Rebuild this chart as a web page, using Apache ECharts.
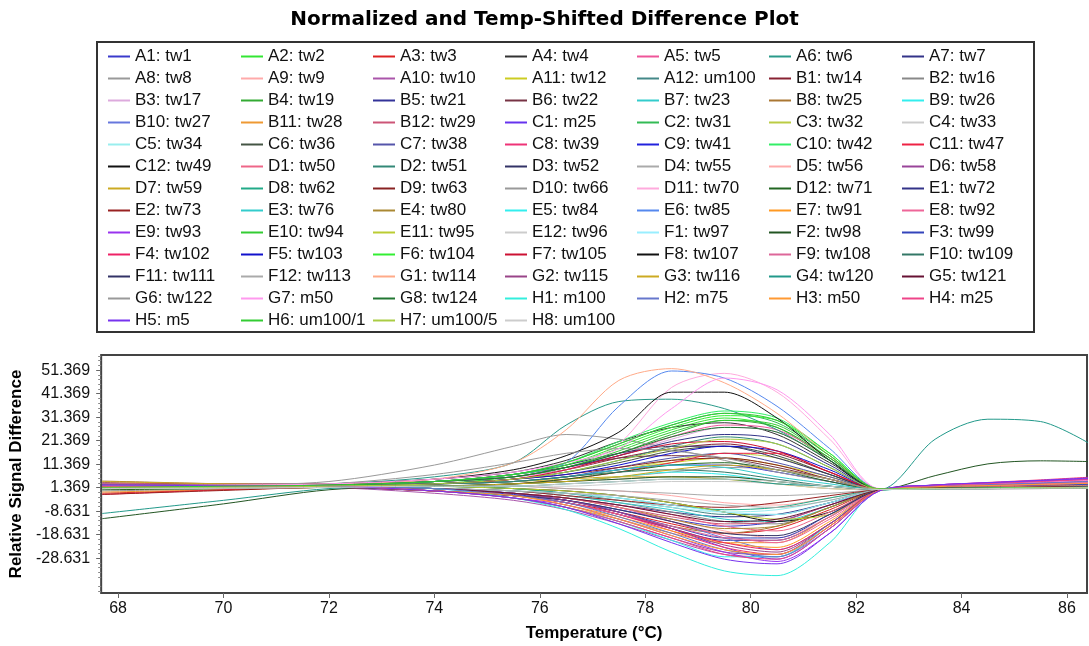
<!DOCTYPE html>
<html>
<head>
<meta charset="utf-8">
<script src="https://cdn.jsdelivr.net/npm/echarts@6/dist/echarts.min.js"></script>
<style>
html,body{margin:0;padding:0;background:#fff;}
#chart{width:1089px;height:646px;}
</style>
</head>
<body>
<div id="chart"></div>
<script>
// ---- DATA ----
const temps = [67.7, 70, 72, 74, 75.5, 76.5, 77.5, 78.5, 79.5, 80.5, 81.5, 82.45, 83.5, 84.5, 85.5, 86.4];
const xTickLabels = [68, 70, 72, 74, 76, 78, 80, 82, 84, 86];
const yTickLabels = [51.369, 41.369, 31.369, 21.369, 11.369, 1.369, -8.631, -18.631, -28.631];
const wellNames = [
'A1: tw1','A2: tw2','A3: tw3','A4: tw4','A5: tw5','A6: tw6','A7: tw7',
'A8: tw8','A9: tw9','A10: tw10','A11: tw12','A12: um100','B1: tw14','B2: tw16',
'B3: tw17','B4: tw19','B5: tw21','B6: tw22','B7: tw23','B8: tw25','B9: tw26',
'B10: tw27','B11: tw28','B12: tw29','C1: m25','C2: tw31','C3: tw32','C4: tw33',
'C5: tw34','C6: tw36','C7: tw38','C8: tw39','C9: tw41','C10: tw42','C11: tw47',
'C12: tw49','D1: tw50','D2: tw51','D3: tw52','D4: tw55','D5: tw56','D6: tw58',
'D7: tw59','D8: tw62','D9: tw63','D10: tw66','D11: tw70','D12: tw71','E1: tw72',
'E2: tw73','E3: tw76','E4: tw80','E5: tw84','E6: tw85','E7: tw91','E8: tw92',
'E9: tw93','E10: tw94','E11: tw95','E12: tw96','F1: tw97','F2: tw98','F3: tw99',
'F4: tw102','F5: tw103','F6: tw104','F7: tw105','F8: tw107','F9: tw108','F10: tw109',
'F11: tw111','F12: tw113','G1: tw114','G2: tw115','G3: tw116','G4: tw120','G5: tw121',
'G6: tw122','G7: m50','G8: tw124','H1: m100','H2: m75','H3: m50','H4: m25',
'H5: m5','H6: um100/1','H7: um100/5','H8: um100'
];
const A1 = [1.5, 1.8, 2.0, 1, -1.5, -4, -8, -12, -15, -13, -6, 0.6, 1.2, 1.4, 1.6, 2.0];
const A2 = [2.0, 2.2, 2.5, 4, 7, 11, 18, 26, 31, 27, 13, 0.8, 1.5, 1.8, 2.2, 2.5];
const A3 = [-1.0, 0.5, 1.5, 0, -2, -5, -9, -14, -18, -16, -8, 0.3, 1.0, 1.2, 1.4, 1.6];
const A4 = [2.5, 2.5, 3.0, 5, 8, 13, 21, 27, 29, 24, 12, 0.9, 2.0, 2.4, 2.8, 3.0];
const A5 = [1.0, 1.5, 2.0, 3, 5, 9, 15, 23, 28, 26, 14, 0.7, 1.8, 2.6, 3.5, 4.5];
const A6 = [1.8, 2.0, 3.0, 6, 12, 28, 38, 39, 35, 26, 13, 0.8, 1.0, 1.3, 1.6, 1.8];
const A7 = [3.0, 2.5, 2.0, 1, -1, -3, -6, -9, -11, -10, -5, 0.4, 1.2, 1.3, 1.4, 1.5];
const A8 = [0.0, 0.8, 1.5, 2, 3, 4, 6, 8, 10, 9, 5, 0.6, 0.8, 0.9, 1.0, 1.2];
const A9 = [1.2, 1.5, 2.0, 2, 2, 1, 0, -2, -5, -6, -3, 0.5, 1.5, 1.8, 2.0, 2.2];
const A10 = [2.2, 2.0, 1.5, -1, -4, -8, -14, -21, -27, -28, -15, 0.3, 2.0, 3.0, 4.2, 5.5];
const A11 = [1.5, 2.0, 2.5, 3, 4, 6, 9, 12, 14, 11, 6, 0.8, 1.4, 1.5, 1.6, 1.8];
const A12 = [0.8, 1.5, 2.0, 2, 1, -1, -4, -7, -10, -10, -5, 0.4, 0.9, 1.0, 1.2, 1.4];
const B1 = [3.5, 3.0, 3.0, 4, 6, 9, 14, 18, 20, 16, 8, 0.8, 2.5, 2.8, 3.1, 3.4];
const B2 = [1.0, 1.2, 1.5, 1, 0, -2, -5, -9, -13, -14, -7, 0.4, 0.8, 0.9, 1.0, 1.2];
const B3 = [2.0, 2.5, 3.0, 4, 6, 9, 15, 22, 27, 25, 13, 0.7, 2.0, 2.6, 3.3, 4.0];
const B4 = [1.5, 2.0, 2.5, 4, 6, 10, 16, 24, 30, 27, 14, 0.8, 0.9, 1.0, 1.1, 1.2];
const B5 = [2.8, 2.5, 2.0, 0, -2, -5, -10, -16, -21, -21, -11, 0.3, 1.5, 1.8, 2.2, 2.5];
const B6 = [1.0, 1.5, 2.5, 4, 7, 10, 14, 15, 14, 10, 5, 0.7, 1.5, 1.7, 1.9, 2.0];
const B7 = [1.8, 2.0, 2.0, 1, 0, -2, -5, -8, -12, -13, -7, 0.4, 1.1, 1.3, 1.6, 1.8];
const B8 = [4.2, 3.0, 2.0, 0, -2, -5, -10, -15, -18, -15, -7, 0.4, 1.5, 1.8, 2.2, 2.5];
const B9 = [1.2, 1.5, 2.0, 2, 3, 4, 6, 8, 7, 4, 2, 0.6, 1.0, 1.1, 1.3, 1.4];
const B10 = [2.0, 2.0, 1.5, 0, -2, -4, -8, -13, -20, -25, -14, 0.2, 1.8, 2.3, 2.8, 3.2];
const B11 = [-0.5, 0.5, 1.5, 0, -3, -7, -12, -18, -22, -22, -11, 0.3, 1.0, 1.2, 1.4, 1.6];
const B12 = [2.5, 2.2, 2.0, 1, -1, -3, -7, -11, -14, -13, -6, 0.5, 1.8, 2.1, 2.4, 2.6];
const C1 = [1.5, 1.8, 2.0, 1, -1, -4, -9, -16, -24, -29, -16, 0.2, 2.5, 3.4, 4.2, 5.0];
const C2 = [2.0, 2.2, 2.8, 4, 7, 12, 20, 28, 33, 29, 15, 0.9, 1.2, 1.4, 1.6, 1.7];
const C3 = [1.0, 1.5, 2.0, 3, 4, 6, 9, 13, 16, 14, 7, 0.7, 1.2, 1.4, 1.6, 1.8];
const C4 = [0.5, 1.0, 1.5, 2, 3, 4, 5, 6, 6, 4, 2, 0.6, 0.9, 1.0, 1.2, 1.3];
const C5 = [1.5, 1.8, 2.0, 1, 0, -2, -4, -7, -9, -8, -4, 0.5, 1.0, 1.1, 1.3, 1.4];
const C6 = [2.0, 2.0, 2.5, 3, 5, 8, 12, 17, 19, 15, 7, 0.8, 1.5, 1.7, 1.9, 2.0];
const C7 = [1.8, 2.0, 2.5, 3, 4, 6, 10, 14, 16, 12, 6, 0.7, 1.5, 1.8, 2.1, 2.4];
const C8 = [1.0, 1.2, 1.5, 0, -2, -5, -10, -17, -24, -27, -15, 0.2, 2.5, 3.6, 4.7, 5.8];
const C9 = [2.5, 2.5, 2.5, 3, 4, 6, 9, 11, 11, 8, 4, 0.7, 1.8, 2.1, 2.4, 2.6];
const C10 = [1.5, 2.0, 2.5, 4, 7, 12, 21, 29, 34, 31, 16, 0.9, 1.0, 1.1, 1.3, 1.4];
const C11 = [-1.5, 0.5, 2.0, 2, 3, 5, 8, 12, 16, 16, 8, 0.7, 1.4, 1.5, 1.7, 1.8];
const C12 = [1.5, 1.5, 2.0, 2, 1, 0, -2, -5, -9, -13, -9, 0.4, 1.0, 1.1, 1.3, 1.5];
const D1 = [3.0, 2.8, 2.5, 1, -1, -3, -6, -10, -15, -17, -9, 0.4, 2.0, 2.5, 3.0, 3.5];
const D2 = [1.2, 1.5, 2.0, 3, 5, 8, 13, 19, 23, 20, 10, 0.7, 1.0, 1.1, 1.3, 1.4];
const D3 = [2.2, 2.2, 2.5, 4, 7, 11, 16, 19, 19, 14, 7, 0.8, 1.6, 1.8, 2.0, 2.2];
const D4 = [1.0, 1.3, 1.8, 2, 2, 1, 0, -1, -2, -2, -1, 0.5, 0.9, 1.0, 1.2, 1.3];
const D5 = [1.5, 1.7, 2.0, 1, -1, -3, -7, -12, -17, -20, -11, 0.3, 1.5, 1.9, 2.3, 2.6];
const D6 = [2.5, 2.3, 2.0, 0, -3, -7, -13, -20, -26, -27, -14, 0.2, 2.2, 3.1, 4.0, 4.8];
const D7 = [4.0, 3.0, 2.5, 3, 4, 5, 6, 6, 5, 3, 1, 0.6, 1.2, 1.4, 1.6, 1.8];
const D8 = [2.0, 2.2, 2.5, 2, 1, -1, -3, -6, -8, -7, -3, 0.5, 1.0, 1.2, 1.4, 1.5];
const D9 = [1.2, 1.5, 2.0, 3, 5, 7, 10, 13, 14, 11, 5, 0.7, 1.4, 1.6, 1.8, 2.0];
const D10 = [2.0, 2.5, 4.0, 11, 19, 24, 22, 18, 13, 8, 4, 0.6, 1.0, 1.1, 1.3, 1.4];
const D11 = [1.5, 2.0, 2.5, 4, 6, 9, 20, 44, 50, 42, 22, 0.9, 1.8, 2.3, 2.9, 3.5];
const D12 = [0.5, 1.0, 1.5, 2, 3, 5, 8, 11, 12, 9, 4, 0.6, 1.0, 1.1, 1.3, 1.5];
const E1 = [2.5, 2.5, 2.5, 4, 6, 10, 15, 21, 24, 22, 11, 0.8, 1.6, 1.9, 2.2, 2.4];
const E2 = [-1.5, 0.2, 1.5, 1, 0, -2, -4, -6, -7, -5, -2, 0.5, 1.0, 1.1, 1.3, 1.4];
const E3 = [1.6, 1.8, 2.0, 3, 4, 6, 9, 11, 10, 6, 3, 0.6, 1.1, 1.2, 1.4, 1.5];
const E4 = [2.0, 2.0, 2.0, 1, -1, -3, -7, -12, -16, -15, -7, 0.4, 1.4, 1.6, 1.8, 2.0];
const E5 = [1.2, 1.5, 1.8, 0, -3, -7, -13, -21, -28, -28, -14, 0.3, 1.2, 1.4, 1.6, 1.8];
const E6 = [2.0, 2.2, 2.5, 4, 7, 12, 36, 51, 48, 36, 18, 0.9, 1.4, 1.7, 2.0, 2.2];
const E7 = [1.5, 1.5, 1.5, 0, -2, -6, -11, -17, -22, -24, -13, 0.2, 1.4, 1.7, 2.0, 2.2];
const E8 = [2.2, 2.0, 1.8, 1, -1, -3, -7, -13, -19, -22, -12, 0.3, 1.8, 2.4, 3.0, 3.5];
const E9 = [1.8, 1.8, 1.5, 0, -3, -6, -12, -19, -26, -30, -18, 0.1, 2.5, 3.5, 4.4, 5.2];
const E10 = [1.0, 1.5, 2.0, 3, 6, 10, 17, 25, 30, 28, 14, 0.8, 1.1, 1.2, 1.4, 1.5];
const E11 = [2.0, 2.0, 2.5, 2, 1, 0, -2, -5, -9, -12, -10, 0.3, 1.2, 1.4, 1.6, 1.8];
const E12 = [1.5, 1.8, 2.0, 2, 2, 2, 3, 4, 4, 3, 1, 0.6, 1.0, 1.1, 1.3, 1.4];
const F1 = [1.0, 1.2, 1.5, 1, 0, -1, -3, -6, -9, -10, -5, 0.4, 0.9, 1.0, 1.2, 1.3];
const F2 = [-11.8, -5.5, 0.5, 2, 3, 4, 5, 6, 6, 4, 2, 0.6, 6.5, 11.5, 12.8, 12.5];
const F3 = [2.5, 2.3, 2.0, 1, -1, -4, -9, -15, -20, -20, -10, 0.3, 1.6, 2.0, 2.4, 2.8];
const F4 = [1.5, 1.5, 1.5, 0, -2, -5, -10, -16, -22, -25, -14, 0.2, 1.3, 1.6, 2.0, 2.3];
const F5 = [2.2, 2.2, 2.5, 3, 5, 7, 11, 16, 19, 17, 9, 0.7, 1.5, 1.7, 1.9, 2.1];
const F6 = [1.8, 2.0, 2.5, 4, 7, 11, 19, 27, 32, 30, 16, 0.8, 1.0, 1.1, 1.3, 1.4];
const F7 = [2.0, 2.0, 2.5, 3, 5, 9, 15, 20, 21, 17, 8, 0.7, 1.2, 1.3, 1.5, 1.6];
const F8 = [2.5, 2.5, 3.0, 5, 9, 15, 25, 42, 42, 31, 13, 0.8, 1.5, 1.7, 1.9, 2.1];
const F9 = [1.0, 1.2, 1.5, 0, -2, -5, -10, -15, -20, -21, -11, 0.3, 1.5, 2.1, 2.7, 3.3];
const F10 = [2.0, 2.0, 2.5, 3, 4, 6, 8, 9, 8, 5, 2, 0.6, 1.2, 1.3, 1.5, 1.6];
const F11 = [1.5, 1.5, 1.5, 0, -2, -4, -8, -13, -18, -19, -10, 0.3, 1.4, 1.7, 2.0, 2.2];
const F12 = [1.0, 1.2, 1.5, 1, 0, -1, -2, -4, -6, -7, -4, 0.5, 1.0, 1.1, 1.2, 1.3];
const G1 = [2.0, 2.5, 3.0, 5, 12, 26, 47, 52, 46, 33, 15, 0.9, 1.4, 1.7, 2.0, 2.2];
const G2 = [2.0, 2.0, 2.0, 1, -1, -4, -9, -16, -23, -26, -14, 0.2, 1.8, 2.6, 3.4, 4.2];
const G3 = [1.5, 1.8, 2.0, 2, 3, 4, 6, 9, 11, 9, 5, 0.7, 1.3, 1.4, 1.6, 1.8];
const G4 = [-9.6, -4.0, 1.0, 2, 2, 3, 4, 5, 5, 3, 2, 0.6, 22, 30.5, 29.5, 20.5];
const G5 = [1.8, 2.0, 2.0, 1, -1, -3, -6, -10, -13, -12, -6, 0.4, 1.3, 1.5, 1.7, 1.9];
const G6 = [1.5, 2.0, 3.0, 7, 12, 16, 18, 17, 14, 9, 5, 0.7, 1.0, 1.1, 1.3, 1.4];
const G7 = [2.5, 2.5, 3.0, 5, 8, 12, 18, 35, 48, 43, 24, 1.0, 2.2, 2.9, 3.7, 4.5];
const G8 = [1.5, 2.0, 2.5, 4, 6, 10, 16, 23, 27, 25, 13, 0.8, 1.0, 1.1, 1.3, 1.4];
const H1 = [1.0, 1.5, 2.0, 1, -3, -8, -16, -26, -34, -36, -22, 0.1, 1.0, 1.2, 1.4, 1.6];
const H2 = [1.5, 1.8, 2.0, 1, -2, -5, -11, -18, -25, -28, -16, 0.2, 2.0, 2.7, 3.4, 4.0];
const H3 = [1.8, 2.0, 2.0, 0, -2, -6, -12, -19, -25, -27, -15, 0.2, 1.8, 2.3, 2.8, 3.2];
const H4 = [2.0, 2.0, 2.0, 0, -3, -7, -13, -20, -27, -29, -16, 0.2, 2.2, 3.1, 4.0, 4.8];
const H5 = [2.5, 2.2, 2.0, 0, -3, -7, -14, -22, -29, -31, -18, 0.1, 2.5, 3.5, 4.5, 5.5];
const H6 = [1.5, 2.0, 2.5, 4, 7, 12, 20, 28, 33, 30, 15, 0.9, 1.1, 1.2, 1.4, 1.5];
const H7 = [1.2, 1.5, 2.0, 3, 5, 8, 13, 18, 22, 20, 10, 0.7, 1.0, 1.1, 1.3, 1.4];
const H8 = [1.0, 1.2, 1.5, 2, 2, 3, 4, 5, 5, 4, 2, 0.6, 0.9, 1.0, 1.2, 1.3];

const wellValues = [
A1,A2,A3,A4,A5,A6,A7,A8,A9,A10,A11,A12,
B1,B2,B3,B4,B5,B6,B7,B8,B9,B10,B11,B12,
C1,C2,C3,C4,C5,C6,C7,C8,C9,C10,C11,C12,
D1,D2,D3,D4,D5,D6,D7,D8,D9,D10,D11,D12,
E1,E2,E3,E4,E5,E6,E7,E8,E9,E10,E11,E12,
F1,F2,F3,F4,F5,F6,F7,F8,F9,F10,F11,F12,
G1,G2,G3,G4,G5,G6,G7,G8,H1,H2,H3,H4,H5,H6,H7,H8
];

// ---- STYLE ----
const palette = [
'#3a3acc','#33e633','#dd2222','#333333','#ee5599','#2a9a8a','#333388',
'#999999','#ffaaaa','#aa55aa','#cccc22','#448888','#882233','#888888',
'#ddaadd','#33aa33','#333399','#773344','#33cccc','#aa7733','#33eeee',
'#6677dd','#ee9933','#cc5577','#6633ee','#33bb55','#bbcc44','#cccccc',
'#99eeee','#445544','#5555aa','#ee3377','#2222dd','#33ee66','#ee2244',
'#111111','#ee6688','#338877','#333366','#aaaaaa','#ffaaaa','#994499',
'#ccaa22','#22aa88','#882222','#999999','#ffaadd','#226622','#333388',
'#992222','#33cccc','#aa8833','#33eeee','#5588ee','#ff9922','#ee6699',
'#9933ee','#33cc33','#bbcc33','#cccccc','#99eeff','#225522','#3344bb',
'#ee2266','#1111cc','#33ee33','#cc1133','#111111','#dd6699','#337766',
'#333366','#aaaaaa','#ffaa88','#994488','#ccaa22','#22998a','#661133',
'#999999','#ff99ee','#227733','#33eedd','#6677cc','#ff9933','#ee4488',
'#7733ee','#33cc33','#aacc44','#cccccc'
];

const FONT = '"Liberation Sans", Arial, sans-serif';
const chart = echarts.init(document.getElementById('chart'), null, {renderer: 'canvas'});

const series = wellNames.map((name, i) => ({
  name: name,
  type: 'line',
  data: temps.map((t, k) => [t, wellValues[i][k]]),
  showSymbol: false,
  smooth: 0.3,
  silent: true,
  color: palette[i],
  lineStyle: {width: 1, color: palette[i]},
  emphasis: {disabled: true}
}));

const colX = [108, 241, 373, 505, 637, 769, 902];
const legends = colX.map((x, c) => ({
  orient: 'vertical',
  left: x,
  top: 48,
  itemGap: 5.0,
  itemWidth: 22,
  itemHeight: 2,
  icon: 'rect',
  selectedMode: false,
  padding: 0,
  textStyle: {fontFamily: FONT, fontSize: 17, lineHeight: 16, color: '#111'},
  data: wellNames.filter((n, i) => i % 7 === c)
}));

const minorTicks = [];
for (let k = -22; k <= 28; k++) {
  if (k % 5 !== 0) minorTicks.push(+(1.369 + 2 * k).toFixed(3));
}

chart.setOption({
  animation: false,
  backgroundColor: '#ffffff',
  title: {
    text: 'Normalized and Temp-Shifted Difference Plot',
    left: 'center',
    top: 5,
    textStyle: {fontFamily: '"DejaVu Sans", Verdana, sans-serif', fontWeight: 'bold', fontSize: 20, color: '#000'}
  },
  legend: legends,
  graphic: [{
    type: 'rect',
    shape: {x: 97, y: 42, width: 937, height: 290},
    style: {fill: 'none', stroke: '#333', lineWidth: 2},
    silent: true
  }],
  grid: {
    left: 97, top: 355, width: 990, height: 238,
    show: true, borderColor: '#444', borderWidth: 2, backgroundColor: '#fff'
  },
  xAxis: {
    type: 'value',
    min: 67.68, max: 86.38,
    name: 'Temperature (°C)',
    nameLocation: 'middle',
    nameGap: 32,
    nameTextStyle: {fontFamily: FONT, fontWeight: 'bold', fontSize: 17, color: '#000'},
    axisLine: {show: false, onZero: false},
    axisTick: {show: true, length: 5, customValues: xTickLabels, lineStyle: {color: '#666'}},
    axisLabel: {customValues: xTickLabels, margin: 8, fontFamily: FONT, fontSize: 16, color: '#111'},
    splitLine: {show: false}
  },
  yAxis: [{
    type: 'value',
    min: -43.4, max: 57.8,
    name: 'Relative Signal Difference',
    nameLocation: 'middle',
    nameRotate: 90,
    nameGap: 70,
    nameTextStyle: {fontFamily: FONT, fontWeight: 'bold', fontSize: 17, color: '#000'},
    axisLine: {show: false, onZero: false},
    axisTick: {show: true, length: 5, customValues: yTickLabels, lineStyle: {color: '#666'}},
    axisLabel: {customValues: yTickLabels, margin: 11, fontFamily: FONT, fontSize: 16, color: '#111',
      formatter: v => Number(v).toFixed(3)},
    splitLine: {show: false}
  }, {
    type: 'value',
    min: -43.4, max: 57.8,
    position: 'left',
    axisLine: {show: false, onZero: false},
    axisTick: {show: true, length: 3, customValues: minorTicks, lineStyle: {color: '#888'}},
    axisLabel: {show: false},
    splitLine: {show: false}
  }],
  series: series
});
</script>
</body>
</html>
